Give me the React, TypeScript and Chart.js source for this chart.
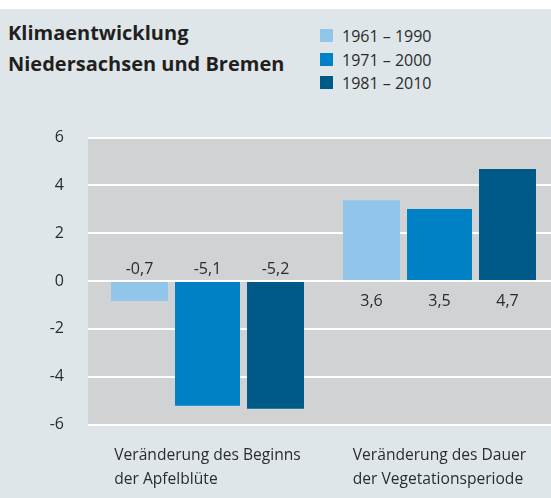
import React, { useEffect, useRef } from "react";
import { Chart, registerables } from "chart.js";

Chart.register(...registerables);

// ---- Data ----
const categoryLines = [
  ["Veränderung des Beginns", "der Apfelblüte"],
  ["Veränderung des Dauer", "der Vegetationsperiode"],
];
const seriesNames = ["1961 – 1990", "1971 – 2000", "1981 – 2010"];
// bar heights as drawn in the picture
const values1961 = [-0.84, 3.38];
const values1971 = [-5.22, 3.01];
const values1981 = [-5.34, 4.68];
// value labels as printed in the picture
const printed1961 = ["-0,7", "3,6"];
const printed1971 = ["-5,1", "3,5"];
const printed1981 = ["-5,2", "4,7"];
const yMin = -6;
const yMax = 6;
const yStep = 2;

const seriesColors = ["#92c5ea", "#0081c6", "#005a87"];
const FONT = "'Open Sans', sans-serif";
const TEXT = "#2b2b2b";

const plotBackground = {
  id: "plotBackground",
  beforeDatasetsDraw(chart: any) {
    const { ctx, chartArea } = chart;
    const y = chart.scales.y;
    const left = chartArea.left - 3.5;
    ctx.save();
    ctx.fillStyle = "#d1d2d4";
    ctx.fillRect(left, chartArea.top, chart.width - left, chartArea.bottom - chartArea.top);
    ctx.strokeStyle = "#ffffff";
    ctx.lineWidth = 2;
    y.ticks.forEach((t: any) => {
      const py = Math.round(y.getPixelForValue(t.value));
      ctx.beginPath();
      ctx.moveTo(left, py);
      ctx.lineTo(chart.width, py);
      ctx.stroke();
    });
    ctx.restore();
  },
};

const valueLabels = {
  id: "valueLabels",
  afterDatasetsDraw(chart: any) {
    const { ctx, chartArea } = chart;
    const zero = chart.scales.y.getPixelForValue(0);
    ctx.save();
    // zero line stays visible over the bars
    ctx.strokeStyle = "#ffffff";
    ctx.lineWidth = 2;
    ctx.beginPath();
    ctx.moveTo(chartArea.left - 3.5, Math.round(zero));
    ctx.lineTo(chart.width, Math.round(zero));
    ctx.stroke();
    ctx.font = `16px ${FONT}`;
    ctx.fillStyle = TEXT;
    ctx.textAlign = "center";
    ctx.textBaseline = "alphabetic";
    chart.data.datasets.forEach((ds: any, i: number) => {
      const meta = chart.getDatasetMeta(i);
      meta.data.forEach((bar: any, j: number) => {
        const v = ds.data[j];
        const yy = v < 0 ? zero - 7 : zero + 25;
        ctx.fillText(ds.printed[j], bar.x, yy);
      });
    });
    ctx.restore();
  },
};

const categoryLabels = {
  id: "categoryLabels",
  afterDraw(chart: any) {
    const { ctx, chartArea } = chart;
    const x = chart.scales.x;
    ctx.save();
    ctx.font = `15.6px ${FONT}`;
    ctx.fillStyle = TEXT;
    ctx.textAlign = "left";
    ctx.textBaseline = "alphabetic";
    categoryLines.forEach((lines, i) => {
      const cx = x.getPixelForValue(i);
      const w = ctx.measureText(lines[0]).width;
      const left = cx - w / 2;
      lines.forEach((line, k) => {
        ctx.fillText(line, left, chartArea.bottom + 35.5 + k * 23.5);
      });
    });
    ctx.restore();
  },
};

export default function App() {
  const canvasRef = useRef<HTMLCanvasElement | null>(null);

  useEffect(() => {
    document.body.style.margin = "0";
    const canvas = canvasRef.current;
    if (!canvas) return;
    const chart = new Chart(canvas, {
      type: "bar",
      data: {
        labels: categoryLines.map((l) => l.join(" ")),
        datasets: [
          { label: seriesNames[0], data: values1961, printed: printed1961, backgroundColor: seriesColors[0], barPercentage: 0.838 } as any,
          { label: seriesNames[1], data: values1971, printed: printed1971, backgroundColor: seriesColors[1], barPercentage: 0.956 } as any,
          { label: seriesNames[2], data: values1981, printed: printed1981, backgroundColor: seriesColors[2], barPercentage: 0.838 } as any,
        ],
      },
      options: {
        animation: false,
        responsive: false,
        maintainAspectRatio: false,
        devicePixelRatio: 1,
        layout: { padding: { top: 137.5, bottom: 73.5, left: 0, right: 0.5 } },
        datasets: { bar: { categoryPercentage: 0.8793, borderWidth: 0 } },
        plugins: {
          legend: { display: false },
          tooltip: { enabled: false },
          title: { display: false },
        },
        scales: {
          x: {
            display: false,
            grid: { display: false },
          },
          y: {
            min: yMin,
            max: yMax,
            border: { display: false },
            grid: { display: false, drawTicks: false },
            ticks: {
              stepSize: yStep,
              padding: 27.5,
              color: TEXT,
              font: { family: FONT, size: 16 },
              callback: (v: any) => String(v),
            },
            afterFit: (scale: any) => {
              scale.width = 91.5;
            },
          },
        },
      } as any,
      plugins: [plotBackground, valueLabels, categoryLabels],
    });
    return () => chart.destroy();
  }, []);

  return (
    <div style={{ position: "relative", width: 551, height: 498, overflow: "hidden", background: "#ffffff", fontFamily: FONT }}>
      <div style={{ position: "absolute", left: 0, top: 9, width: 551, height: 489, background: "#dfe6e9" }} />
      <div
        style={{
          position: "absolute",
          left: 8,
          top: 16.7,
          fontSize: 20,
          fontWeight: 700,
          lineHeight: "31px",
          color: "#231f20",
          whiteSpace: "nowrap",
        }}
      >
        <div>Klimaentwicklung</div>
        <div>Niedersachsen und Bremen</div>
      </div>
      {seriesNames.map((name, i) => (
        <div
          key={name}
          style={{ position: "absolute", left: 320, top: 24 + i * 23.6, height: 24, lineHeight: "24px", fontSize: 16, color: TEXT, whiteSpace: "nowrap" }}
        >
          <span style={{ position: "absolute", left: 0, top: 5, width: 13, height: 13, background: seriesColors[i] }} />
          <span style={{ position: "absolute", left: 22, top: 0 }}>{name}</span>
        </div>
      ))}
      <canvas ref={canvasRef} width={556} height={498} style={{ position: "absolute", left: 0, top: 0, width: 556, height: 498 }} />
    </div>
  );
}
